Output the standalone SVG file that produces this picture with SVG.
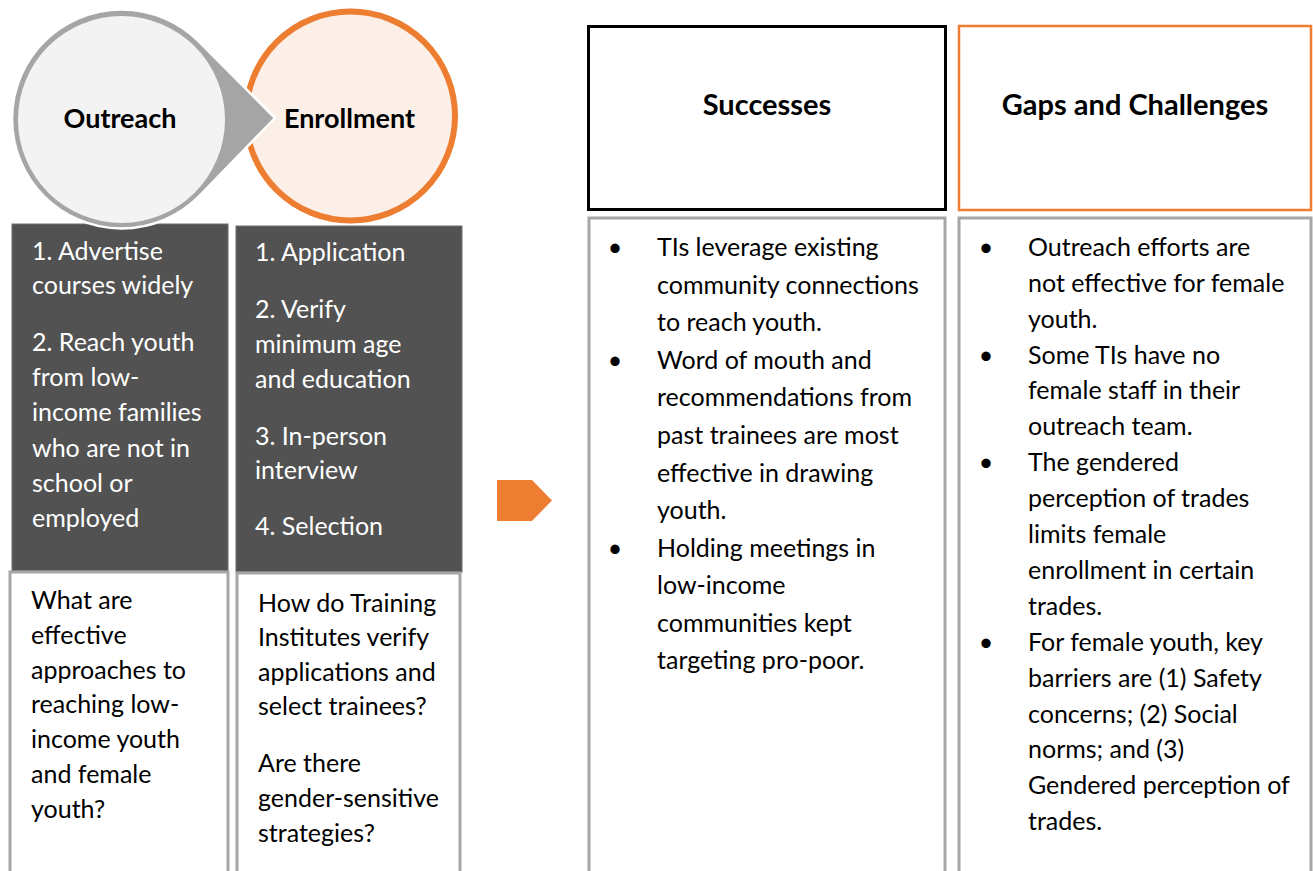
<svg xmlns="http://www.w3.org/2000/svg" width="1313" height="871" viewBox="0 0 1313 871">
  <style>
    text { font-family: Lato, "Liberation Sans", sans-serif; }
    .body { font-size: 25px; fill: #000; }
    .light { font-size: 25px; fill: #ffffff; }
    .head { font-size: 29px; font-weight: bold; fill: #000; text-anchor: middle; }
    .circ { font-size: 27px; font-weight: bold; fill: #000; text-anchor: middle; }
    .dark { fill: #525252; stroke: #6e6e6e; stroke-width: 1; }
    .qbox { fill: #ffffff; stroke: #a6a6a6; stroke-width: 3; }
    .bul { font-size: 25px; fill: #000; text-anchor: middle; }
  </style>

  <rect width="1313" height="871" fill="#ffffff"/>

  <!-- step lists -->
  <g id="outreach-steps">
    <rect class="dark" x="12" y="224" width="216" height="347"/>
    <text class="light" x="32" y="260">1. Advertise</text>
    <text class="light" x="32" y="294">courses widely</text>
    <text class="light" x="32" y="351">2. Reach youth</text>
    <text class="light" x="32" y="386">from low-</text>
    <text class="light" x="32" y="421">income families</text>
    <text class="light" x="32" y="457">who are not in</text>
    <text class="light" x="32" y="492">school or</text>
    <text class="light" x="32" y="527">employed</text>
  </g>

  <g id="enrollment-steps">
    <rect class="dark" x="236" y="226" width="226" height="346"/>
    <text class="light" x="255" y="261">1. Application</text>
    <text class="light" x="255" y="318">2. Verify</text>
    <text class="light" x="255" y="353">minimum age</text>
    <text class="light" x="255" y="388">and education</text>
    <text class="light" x="255" y="445">3. In-person</text>
    <text class="light" x="255" y="479">interview</text>
    <text class="light" x="255" y="535">4. Selection</text>
  </g>

  <!-- guiding questions -->
  <g id="outreach-question">
    <rect class="qbox" x="10" y="572" width="218" height="310"/>
    <text class="body" x="31" y="609">What are</text>
    <text class="body" x="31" y="644">effective</text>
    <text class="body" x="31" y="679">approaches to</text>
    <text class="body" x="31" y="713">reaching low-</text>
    <text class="body" x="31" y="748">income youth</text>
    <text class="body" x="31" y="783">and female</text>
    <text class="body" x="31" y="818">youth?</text>
  </g>

  <g id="enrollment-question">
    <rect class="qbox" x="237" y="573" width="223" height="310"/>
    <text class="body" x="258" y="612">How do Training</text>
    <text class="body" x="258" y="646">Institutes verify</text>
    <text class="body" x="258" y="681">applications and</text>
    <text class="body" x="258" y="715">select trainees?</text>
    <text class="body" x="258" y="772">Are there</text>
    <text class="body" x="258" y="807">gender-sensitive</text>
    <text class="body" x="258" y="842">strategies?</text>
  </g>

  <!-- stage circles -->
  <g id="enrollment">
    <circle cx="350.5" cy="116" r="104.5" fill="#fcefe7" stroke="#ed7d31" stroke-width="6"/>
    <text class="circ" x="349.5" y="128">Enrollment</text>
  </g>

  <g id="outreach">
    <path d="M 275 118 L 198.7 41.3 A 109.5 109.5 0 1 0 198.7 196.7 Z" fill="#a5a5a5" stroke="#ffffff" stroke-width="2.5" stroke-linejoin="miter"/>
    <circle cx="121.5" cy="119.5" r="103.5" fill="#f3f3f3"/>
    <text class="circ" x="120" y="128">Outreach</text>
  </g>

  <!-- findings -->
  <g id="successes-header">
    <rect x="588.5" y="26.5" width="357" height="183" fill="#ffffff" stroke="#000000" stroke-width="3"/>
    <text class="head" x="767" y="115">Successes</text>
  </g>

  <g id="gaps-header">
    <rect x="959" y="26" width="352" height="184" fill="#ffffff" stroke="#ed7d31" stroke-width="2.5"/>
    <text class="head" x="1135" y="115">Gaps and Challenges</text>
  </g>

  <g id="successes">
    <rect class="qbox" x="589" y="218" width="356" height="670"/>
    <text class="bul" x="615" y="256">•</text>
    <text class="body" x="657" y="256">TIs leverage existing</text>
    <text class="body" x="657" y="294">community connections</text>
    <text class="body" x="657" y="331">to reach youth.</text>
    <text class="bul" x="615" y="369">•</text>
    <text class="body" x="657" y="369">Word of mouth and</text>
    <text class="body" x="657" y="406">recommendations from</text>
    <text class="body" x="657" y="444">past trainees are most</text>
    <text class="body" x="657" y="482">effective in drawing</text>
    <text class="body" x="657" y="519">youth.</text>
    <text class="bul" x="615" y="557">•</text>
    <text class="body" x="657" y="557">Holding meetings in</text>
    <text class="body" x="657" y="594">low-income</text>
    <text class="body" x="657" y="632">communities kept</text>
    <text class="body" x="657" y="669">targeting pro-poor.</text>
  </g>

  <g id="gaps">
    <rect class="qbox" x="959" y="218" width="352" height="670"/>
    <text class="bul" x="986" y="256">•</text>
    <text class="body" x="1028" y="256">Outreach efforts are</text>
    <text class="body" x="1028" y="292">not effective for female</text>
    <text class="body" x="1028" y="328">youth.</text>
    <text class="bul" x="986" y="364">•</text>
    <text class="body" x="1028" y="364">Some TIs have no</text>
    <text class="body" x="1028" y="399">female staff in their</text>
    <text class="body" x="1028" y="435">outreach team.</text>
    <text class="bul" x="986" y="471">•</text>
    <text class="body" x="1028" y="471">The gendered</text>
    <text class="body" x="1028" y="507">perception of trades</text>
    <text class="body" x="1028" y="543">limits female</text>
    <text class="body" x="1028" y="579">enrollment in certain</text>
    <text class="body" x="1028" y="615">trades.</text>
    <text class="bul" x="986" y="651">•</text>
    <text class="body" x="1028" y="651">For female youth, key</text>
    <text class="body" x="1028" y="687">barriers are (1) Safety</text>
    <text class="body" x="1028" y="723">concerns; (2) Social</text>
    <text class="body" x="1028" y="758">norms; and (3)</text>
    <text class="body" x="1028" y="794">Gendered perception of</text>
    <text class="body" x="1028" y="830">trades.</text>
  </g>

  <!-- flow arrow from stages to findings -->
  <g id="connectors">
    <polygon points="497,480 532,480 552,500.5 532,521 497,521" fill="#ed7d31"/>
  </g>
</svg>
